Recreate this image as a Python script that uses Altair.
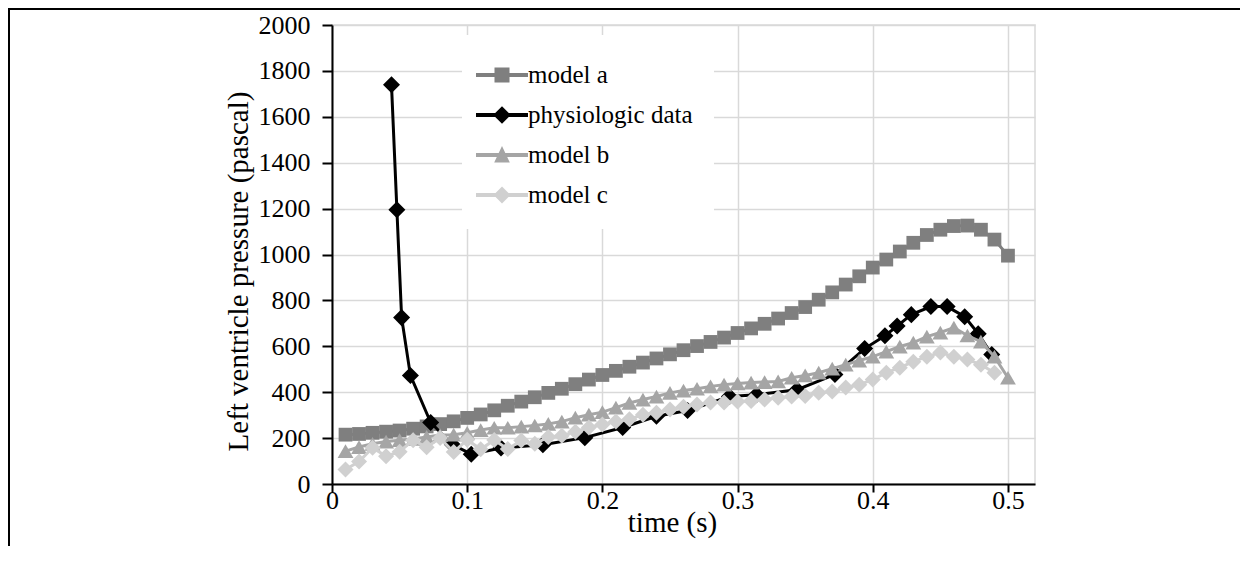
import altair as alt
import pandas as pd

# ---------------- data ----------------
time_models = [0.01, 0.02, 0.03, 0.04, 0.05, 0.06, 0.07, 0.08, 0.09, 0.10,
               0.11, 0.12, 0.13, 0.14, 0.15, 0.16, 0.17, 0.18, 0.19, 0.20,
               0.21, 0.22, 0.23, 0.24, 0.25, 0.26, 0.27, 0.28, 0.29, 0.30,
               0.31, 0.32, 0.33, 0.34, 0.35, 0.36, 0.37, 0.38, 0.39, 0.40,
               0.41, 0.42, 0.43, 0.44, 0.45, 0.46, 0.47, 0.48, 0.49, 0.50]

model_a = [215, 218, 223, 228, 233, 241, 251, 261, 273, 288,
           303, 321, 341, 359, 378, 397, 415, 435, 455, 475,
           493, 511, 529, 547, 565, 583, 601, 619, 638, 658,
           678, 698, 721, 745, 771, 803, 835, 869, 905, 943,
           978, 1013, 1051, 1085, 1108, 1124, 1126, 1108, 1065, 995]

model_b = [143, 161, 175, 185, 191, 196, 205, 213, 215, 223,
           235, 245, 245, 250, 255, 262, 272, 289, 302, 313,
           333, 353, 368, 381, 397, 407, 415, 425, 433, 438,
           442, 444, 447, 463, 473, 485, 503, 520, 538, 555,
           577, 599, 616, 642, 660, 681, 647, 620, 555, 463]

time_c = [0.01, 0.02, 0.03, 0.04, 0.05, 0.06, 0.07, 0.08, 0.09, 0.10,
          0.11, 0.12, 0.13, 0.14, 0.15, 0.16, 0.17, 0.18, 0.19, 0.20,
          0.21, 0.22, 0.23, 0.24, 0.25, 0.26, 0.27, 0.28, 0.29, 0.30,
          0.31, 0.32, 0.33, 0.34, 0.35, 0.36, 0.37, 0.38, 0.39, 0.40,
          0.41, 0.42, 0.43, 0.44, 0.45, 0.46, 0.47, 0.48, 0.49]

model_c = [63, 98, 158, 121, 141, 191, 160, 200, 139, 193,
           151, 192, 152, 190, 175, 205, 210, 228, 246, 259,
           272, 282, 302, 311, 325, 337, 346, 355, 355, 359,
           362, 368, 376, 381, 383, 398, 403, 420, 433, 455,
           485, 507, 533, 555, 573, 555, 542, 520, 485]

time_phys = [0.044, 0.048, 0.0515, 0.058, 0.073, 0.089, 0.103, 0.125, 0.156,
             0.187, 0.215, 0.240, 0.263, 0.294, 0.314, 0.344, 0.372, 0.394,
             0.409, 0.418, 0.4285, 0.443, 0.455, 0.468, 0.478, 0.488]
phys = [1740, 1195, 725, 473, 268, 172, 130, 157, 171,
        202, 246, 295, 320, 381, 389, 411, 477, 590,
        646, 688, 738, 773, 773, 729, 655, 564]

series_names = ["model a", "physiologic data", "model b", "model c"]
series_colors = ["#7f7f7f", "#000000", "#a5a5a5", "#d0d0d0"]

x_ticks = [0, 0.1, 0.2, 0.3, 0.4, 0.5]
y_ticks = [0, 200, 400, 600, 800, 1000, 1200, 1400, 1600, 1800, 2000]

# ---------------- table ----------------
rows = []
for t, v in zip(time_models, model_a):
    rows.append({"series": "model a", "t": t, "v": v})
for t, v in zip(time_phys, phys):
    rows.append({"series": "physiologic data", "t": t, "v": v})
for t, v in zip(time_models, model_b):
    rows.append({"series": "model b", "t": t, "v": v})
for t, v in zip(time_c, model_c):
    rows.append({"series": "model c", "t": t, "v": v})
df = pd.DataFrame(rows)

FONT = "Liberation Serif, Times New Roman, serif"

x_enc = alt.X("t:Q",
              scale=alt.Scale(domain=[0, 0.52], nice=False, zero=True),
              axis=alt.Axis(values=x_ticks, format="~g", title="time (s)",
                            labelFont=FONT, titleFont=FONT,
                            labelFontSize=26, titleFontSize=29,
                            tickSize=8, labelPadding=-5,
                            titleX=340, titleY=38, titleBaseline="middle",
                            titleAlign="center", labelFlush=False,
                            grid=True))
y_enc = alt.Y("v:Q",
              scale=alt.Scale(domain=[0, 2000], nice=False),
              axis=alt.Axis(values=y_ticks, format="d",
                            title="Left ventricle pressure (pascal)",
                            labelFont=FONT, titleFont=FONT,
                            labelFontSize=26, titleFontSize=29,
                            tickSize=10, labelPadding=12,
                            titleX=-94, titleY=246, titleAngle=270,
                            titleBaseline="middle", titleAlign="center",
                            labelFlush=False, grid=True))

base = alt.Chart(df)

specs = [
    ("model a", "#7f7f7f", "square", 190, 3),
    ("physiologic data", "#000000", "diamond", 290, 3),
    ("model b", "#a5a5a5", "triangle-up", 250, 3),
    ("model c", "#d0d0d0", "diamond", 256, 3),
]

layers = []
for name, color, shape, size, width in specs:
    sub = base.transform_filter(alt.datum.series == name)
    layers.append(sub.mark_line(color=color, strokeWidth=width).encode(x=x_enc, y=y_enc))
    layers.append(sub.mark_point(shape=shape, filled=True, color=color, size=size,
                                 opacity=1).encode(x=x_enc, y=y_enc))

# legend symbols: line segment + marker (custom paths, unit = 20 px)
line_part = "M-1.3,-0.1H1.3V0.1H-1.3Z"
legend_paths = [
    line_part + "M-0.375,-0.375H0.375V0.375H-0.375Z",
    line_part + "M0,-0.44L0.44,0L0,0.44L-0.44,0Z",
    line_part + "M0,-0.45L0.39,0.37L-0.39,0.37Z",
    line_part + "M0,-0.42L0.42,0L0,0.42L-0.42,0Z",
]

leg = alt.Legend(title=None, orient="none", legendX=130, legendY=10,
                 padding=20, fillColor="white", strokeColor="white",
                 labelFont=FONT, labelFontSize=25, labelColor="black",
                 labelOffset=6, symbolSize=1600, rowPadding=7,
                 symbolStrokeWidth=0, symbolOpacity=1, labelLimit=400)

legend_layer = base.transform_filter("false").mark_point(filled=True, opacity=1).encode(
    x=x_enc, y=y_enc,
    color=alt.Color("series:N", scale=alt.Scale(domain=series_names, range=series_colors),
                    legend=leg, sort=series_names),
    shape=alt.Shape("series:N", scale=alt.Scale(domain=series_names, range=legend_paths),
                    legend=leg, sort=series_names),
)

# outer frame (table-cell border in the reference)
frame_df = pd.DataFrame({"k": [0]})
frame_left = alt.Chart(frame_df).mark_rule(color="black", strokeWidth=2).encode(
    x=alt.value(-323), y=alt.value(-16), y2=alt.value(529))
frame_top = alt.Chart(frame_df).mark_rule(color="black", strokeWidth=2).encode(
    x=alt.value(-324), x2=alt.value(908), y=alt.value(-16))

chart = alt.layer(*layers, legend_layer, frame_left, frame_top).properties(
    width=703, height=459,
    autosize=alt.AutoSizeParams(type="none"),
    padding={"left": 324, "top": 17, "right": 205, "bottom": 62},
).configure(
    font=FONT,
    style={"guide-label": {"font": FONT, "fill": "black"},
           "guide-title": {"font": FONT, "fill": "black"}},
).configure_view(
    stroke="#d9d9d9", strokeWidth=1.5
).configure_axis(
    gridColor="#d9d9d9", gridWidth=1.5,
    domainColor="black", domainWidth=2,
    tickColor="black", tickWidth=2,
    labelFont=FONT, titleFont=FONT,
    labelColor="black", titleColor="black", titleFontWeight="normal",
).configure_legend(
    labelFont=FONT
)

chart.save("out.html", embed_options={"renderer": "svg", "actions": False})
